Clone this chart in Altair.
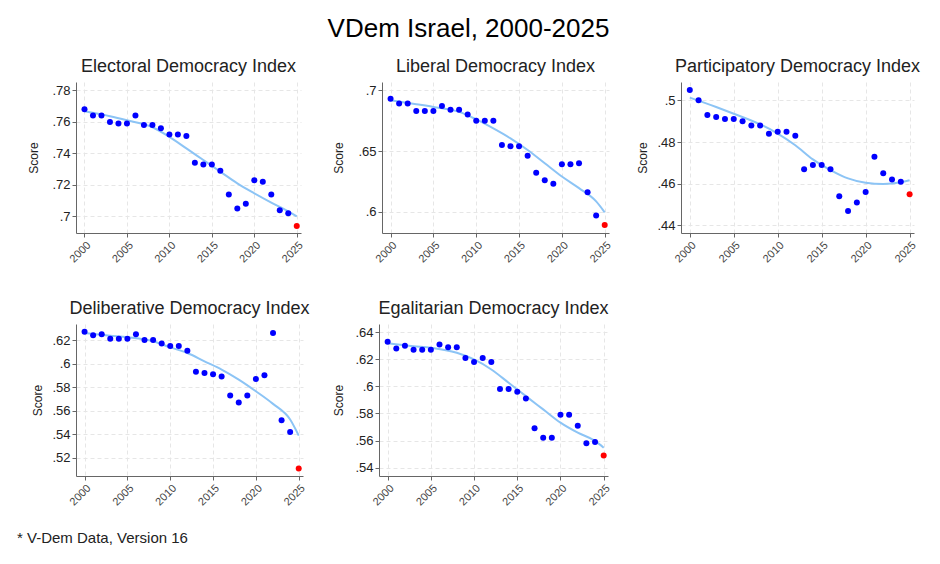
import altair as alt
import pandas as pd

years = list(range(2000, 2026))

electoral = [.768, .764, .764, .760, .759, .759, .764, .758, .758, .756, .752, .752, .751,
             .734, .733, .733, .729, .714, .705, .708, .723, .722, .714, .704, .702, .694]
liberal = [.693, .689, .689, .683, .683, .683, .687, .684, .684, .680, .675, .675, .675,
           .655, .654, .654, .646, .632, .626, .623, .639, .639, .640, .616, .597, .589]
participatory = [.505, .500, .493, .492, .491, .491, .490, .488, .488, .484, .485, .485, .483,
                 .467, .469, .469, .467, .454, .447, .451, .456, .473, .465, .462, .461, .455]
deliberative = [.627, .624, .625, .621, .621, .621, .625, .620, .620, .617, .615, .615, .611,
                .593, .592, .591, .589, .573, .567, .573, .587, .590, .626, .552, .542, .511]
egalitarian = [.633, .628, .630, .627, .627, .627, .631, .629, .629, .621, .618, .621, .618,
               .598, .598, .596, .591, .569, .562, .562, .579, .579, .571, .558, .559, .549]

# smoothed trend
fit_years = [2000, 2003, 2005, 2008, 2010, 2012, 2014, 2016, 2018, 2020, 2022, 2024, 2025]
electoral_fit = [.7667, .7636, .7610, .7566, .7505, .7432, .7358, .7284, .7210, .7147, .7088, .7032, .7000]
liberal_fit = [.6918, .6885, .6863, .6822, .6760, .6686, .6604, .6508, .6399, .6290, .6194, .6085, .5995]
participatory_fit = [.5013, .4968, .4936, .4885, .4841, .4785, .4717, .4666, .4626, .4605, .4599, .4607, .4617]
deliberative_fit = [.6259, .6237, .6223, .6189, .6138, .6090, .6019, .5949, .5864, .5765, .5658, .5525, .5389]
egalitarian_fit = [.6319, .6297, .6285, .6248, .6199, .6125, .6027, .5928, .5830, .5732, .5658, .5597, .5547]

x_ticks = [2000, 2005, 2010, 2015, 2020, 2025]
FONT = "Liberation Sans"


def panel(title, values, fit, domain, ticks, width, height=151, extent=30):
    pts = pd.DataFrame({"year": years, "score": values})
    pts["latest"] = pts["year"] == 2025
    trend = pd.DataFrame({"year": fit_years, "score": fit})

    x = alt.X("year:Q",
              scale=alt.Scale(domain=[1999, 2025.5], nice=False, zero=False),
              axis=alt.Axis(values=x_ticks, format="d", labelAngle=-45, title=None,
                            labelFontSize=11, labelColor="#444"))
    y = alt.Y("score:Q",
              scale=alt.Scale(domain=domain, nice=False, zero=False),
              axis=alt.Axis(values=ticks, title="Score", minExtent=extent, maxExtent=extent,
                            titlePadding=6,
                            labelExpr="replace(format(datum.value, '.2~f'), '0.', '.')"))

    line = alt.Chart(trend).mark_line(
        color="#8cc4f5", strokeWidth=2, interpolate="monotone"
    ).encode(x, y)
    dots = alt.Chart(pts).mark_circle(size=36, opacity=1).encode(
        x, y,
        color=alt.Color("latest:N", legend=None,
                        scale=alt.Scale(domain=[False, True], range=["#0000ff", "#ff0000"])),
    )
    return alt.layer(line, dots).properties(
        width=width, height=height,
        title=alt.TitleParams(title, fontSize=18, fontWeight="normal", color="#222",
                              frame="group", offset=6),
    )


p1 = panel("Electoral Democracy Index", electoral, electoral_fit, [.6895, .7853],
           [.70, .72, .74, .76, .78], 225, extent=30)
p2 = panel("Liberal Democracy Index", liberal, liberal_fit, [.5825, .7068],
           [.60, .65, .70], 227, extent=31)
p3 = panel("Participatory Democracy Index", participatory, participatory_fit, [.4364, .5088],
           [.44, .46, .48, .50], 233, extent=26)
p4 = panel("Deliberative Democracy Index", deliberative, deliberative_fit, [.5046, .6336],
           [.52, .54, .56, .58, .60, .62], 227, 152, extent=26)
p5 = panel("Egalitarian Democracy Index", egalitarian, egalitarian_fit, [.5338, .6461],
           [.54, .56, .58, .60, .62, .64], 229, 152, extent=28)

row1 = alt.hconcat(alt.hconcat(p1, p2, spacing=27), p3, spacing=23)
row2 = alt.hconcat(p4, p5, spacing=22).properties(
    title=alt.TitleParams("* V-Dem Data, Version 16", orient="bottom", anchor="start",
                          fontSize=15, fontWeight="normal", color="#222", offset=24, dx=-14)
)

chart = alt.vconcat(row1, row2, spacing=35).properties(
    title=alt.TitleParams("VDem Israel, 2000-2025", fontSize=26, fontWeight="normal",
                          color="#000", anchor="middle", offset=16),
    padding={"left": 9, "top": 8, "right": 5, "bottom": 5},
).configure(font=FONT).configure_view(stroke=None).configure_axis(
    labelFont=FONT, titleFont=FONT, labelFontSize=13, titleFontSize=12,
    titleFontWeight="normal", labelColor="#222", titleColor="#222",
    domainColor="#666", tickColor="#666", tickSize=4,
    grid=True, gridColor="#e6e6e6", gridDash=[4, 3],
).configure_title(font=FONT)

chart.save("out.html", embed_options={"renderer": "svg", "actions": False})
